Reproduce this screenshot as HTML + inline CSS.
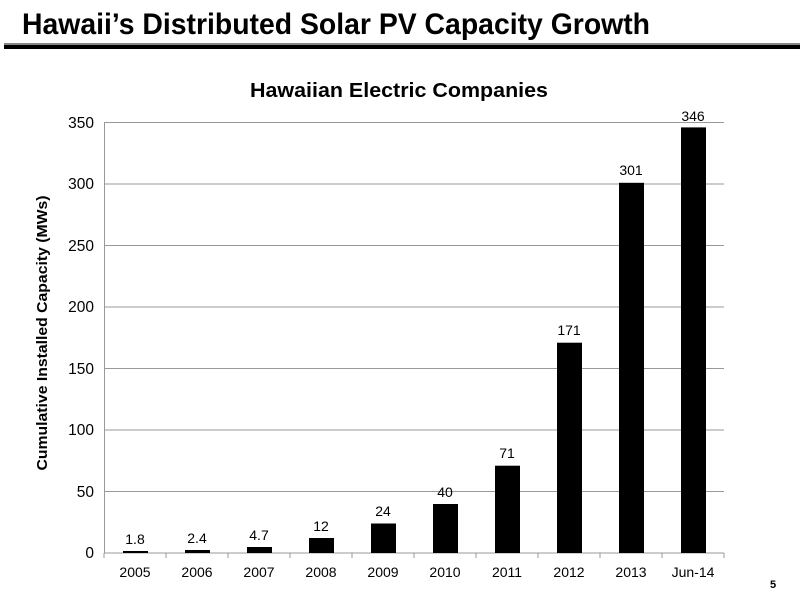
<!DOCTYPE html>
<html><head><meta charset="utf-8"><style>
body{margin:0;background:#fff;}
svg{display:block;font-family:"Liberation Sans",Arial,sans-serif;}
</style></head><body>
<svg width="800" height="600" viewBox="0 0 800 600">
<rect width="800" height="600" fill="#fff"/>
<text x="22" y="34" font-size="30" font-weight="bold" textLength="628" lengthAdjust="spacingAndGlyphs" fill="#000">Hawaii’s Distributed Solar PV Capacity Growth</text>
<rect x="4" y="43" width="796" height="2" fill="#888"/>
<rect x="4" y="45" width="796" height="4" fill="#000"/>
<text x="250" y="97" font-size="20" font-weight="bold" textLength="298" lengthAdjust="spacingAndGlyphs" fill="#000">Hawaiian Electric Companies</text>
<g stroke="#999" stroke-width="1">
<line x1="104" y1="122.5" x2="724" y2="122.5"/>
<line x1="104" y1="184" x2="724" y2="184"/>
<line x1="104" y1="245.5" x2="724" y2="245.5"/>
<line x1="104" y1="307" x2="724" y2="307"/>
<line x1="104" y1="368.5" x2="724" y2="368.5"/>
<line x1="104" y1="430" x2="724" y2="430"/>
<line x1="104" y1="491.5" x2="724" y2="491.5"/>
<line x1="104" y1="553" x2="724" y2="553"/>
<line x1="104.5" y1="122" x2="104.5" y2="553"/>
<line x1="104" y1="553" x2="104" y2="558"/><line x1="166" y1="553" x2="166" y2="558"/><line x1="228" y1="553" x2="228" y2="558"/><line x1="290" y1="553" x2="290" y2="558"/><line x1="352" y1="553" x2="352" y2="558"/><line x1="414" y1="553" x2="414" y2="558"/><line x1="476" y1="553" x2="476" y2="558"/><line x1="538" y1="553" x2="538" y2="558"/><line x1="600" y1="553" x2="600" y2="558"/><line x1="662" y1="553" x2="662" y2="558"/><line x1="724" y1="553" x2="724" y2="558"/>
</g>
<g font-size="15.5" fill="#000" text-anchor="end">
<text x="94" y="128">350</text><text x="94" y="189">300</text><text x="94" y="251">250</text><text x="94" y="312">200</text><text x="94" y="374">150</text><text x="94" y="435">100</text><text x="94" y="497">50</text><text x="94" y="558">0</text>
</g>
<text transform="translate(47,333) rotate(-90)" font-size="15" font-weight="bold" text-anchor="middle" textLength="275" lengthAdjust="spacingAndGlyphs">Cumulative Installed Capacity (MWs)</text>
<g fill="#000">
<rect x="123" y="551" width="25" height="2"/>
<rect x="185" y="550" width="25" height="3"/>
<rect x="247" y="547" width="25" height="6"/>
<rect x="309" y="538" width="25" height="15"/>
<rect x="371" y="523.5" width="25" height="29.5"/>
<rect x="433" y="504" width="25" height="49"/>
<rect x="495" y="465.7" width="25" height="87.3"/>
<rect x="557" y="342.7" width="25" height="210.3"/>
<rect x="619" y="182.8" width="25" height="370.2"/>
<rect x="681" y="127.4" width="25" height="425.6"/>
</g>
<g font-size="14" text-anchor="middle" fill="#000">
<text x="135" y="544">1.8</text><text x="197" y="543">2.4</text><text x="259" y="540">4.7</text><text x="321" y="531">12</text><text x="383" y="516">24</text><text x="445" y="497">40</text><text x="507" y="458">71</text><text x="569" y="335">171</text><text x="631" y="175">301</text><text x="693" y="121">346</text>
</g>
<g font-size="14" text-anchor="middle" fill="#000">
<text x="135" y="577">2005</text><text x="197" y="577">2006</text><text x="259" y="577">2007</text><text x="321" y="577">2008</text><text x="383" y="577">2009</text><text x="445" y="577">2010</text><text x="507" y="577">2011</text><text x="569" y="577">2012</text><text x="631" y="577">2013</text><text x="693" y="577">Jun-14</text>
</g>
<text x="770" y="588" font-size="11" font-weight="bold">5</text>
</svg>
</body></html>
